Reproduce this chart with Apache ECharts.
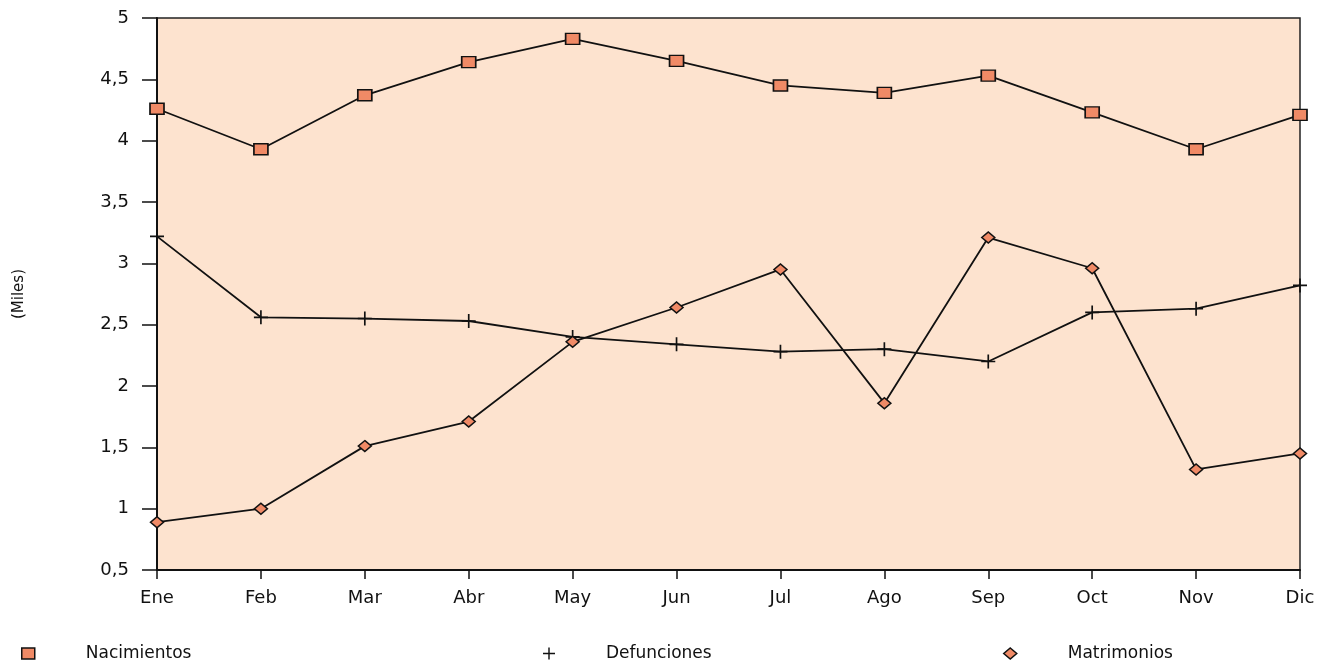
<!DOCTYPE html>
<html><head><meta charset="utf-8">
<script src="https://cdn.jsdelivr.net/npm/echarts@6/dist/echarts.min.js"></script>
<style>html,body{margin:0;padding:0;background:#fff}#c{width:1328px;height:660px}</style>
</head><body><div id="c"></div>
<script>
const categories = ['Ene','Feb','Mar','Abr','May','Jun','Jul','Ago','Sep','Oct','Nov','Dic'];
const nacimientos = [4.26,3.93,4.37,4.64,4.83,4.65,4.45,4.39,4.53,4.23,3.93,4.21];
const defunciones = [3.22,2.56,2.55,2.53,2.40,2.34,2.28,2.30,2.20,2.60,2.63,2.82];
const matrimonios = [0.89,1.00,1.51,1.71,2.36,2.64,2.95,1.86,3.21,2.96,1.32,1.45];
const seriesNames = ['Nacimientos','Defunciones','Matrimonios'];
const yTicks = [0.5,1,1.5,2,2.5,3,3.5,4,4.5,5];

const FONT = 'DejaVu Sans';
const plus = 'path://M4.4,0h1.2v4.4h4.4v1.2h-4.4v4.4h-1.2v-4.4h-4.4v-1.2h4.4z';
const orange = '#f08a66';

const chart = echarts.init(document.getElementById('c'));
function legendAt(left, name, icon, w, h, style){
  return {
    left: left, top: 640, orient:'horizontal',
    data:[{name:name, icon:icon, itemStyle:style}],
    itemWidth: w, itemHeight: h, itemGap: 0,
    textStyle:{fontFamily:FONT, fontSize:17, color:'#111', padding:[0,0,0,46]},
    selectedMode:false
  };
}
const markStyle = {color:orange, borderColor:'#111', borderWidth:1.5};
chart.setOption({
  animation:false,
  backgroundColor:'#ffffff',
  grid:{left:157, right:28, top:18, bottom:90, show:true, backgroundColor:'#fde3cf', borderColor:'#222', borderWidth:1.5},
  legend:[
    legendAt(16,'Nacimientos','rect',13,11,markStyle),
    legendAt(538,'Defunciones',plus,12,12,{color:'#111', borderWidth:0}),
    legendAt(998,'Matrimonios','diamond',13,11,markStyle)
  ],
  xAxis:{
    type:'category', data:categories, boundaryGap:false,
    axisLine:{lineStyle:{color:'#111', width:2}},
    axisTick:{show:true, length:9, inside:false, lineStyle:{color:'#111', width:1.5}},
    axisLabel:{fontFamily:FONT, fontSize:18, color:'#111', margin:19},
    splitLine:{show:false}
  },
  yAxis:{
    type:'value', min:0.5, max:5, interval:0.5,
    name:'(Miles)', nameLocation:'middle', nameGap:130, nameRotate:90,
    nameTextStyle:{fontFamily:FONT, fontSize:15, color:'#111'},
    axisLine:{show:true, lineStyle:{color:'#111', width:2}},
    axisTick:{show:true, length:15, lineStyle:{color:'#111', width:1.5}},
    axisLabel:{fontFamily:FONT, fontSize:18, color:'#111', margin:28,
      formatter:v=> yTicks.includes(v) ? String(v).replace('.',',') : ''},
    splitLine:{show:false}
  },
  series:[
    {name:seriesNames[0], type:'line', data:nacimientos, symbol:'rect', symbolSize:[14,11],
      itemStyle:markStyle, lineStyle:{color:'#111', width:1.8}},
    {name:seriesNames[1], type:'line', data:defunciones, symbol:plus, symbolSize:14,
      itemStyle:{color:'#111', borderWidth:0}, lineStyle:{color:'#111', width:1.8}},
    {name:seriesNames[2], type:'line', data:matrimonios, symbol:'diamond', symbolSize:[13,11],
      itemStyle:markStyle, lineStyle:{color:'#111', width:1.8}}
  ]
});
</script></body></html>
